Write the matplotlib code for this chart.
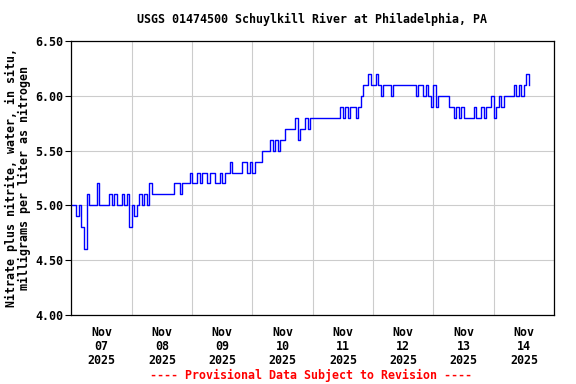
import matplotlib
matplotlib.use("Agg")
import matplotlib.dates as mdates
import matplotlib.pyplot as plt
import pandas as pd
from matplotlib.ticker import FormatStrFormatter, MultipleLocator

# hourly nitrate + nitrite readings (mg/L as N), starting each day at 00:00
nov07 = [5.0, 5.0, 4.9, 5.0, 4.8, 4.6, 5.1, 5.0, 5.0, 5.0, 5.2, 5.0,
         5.0, 5.0, 5.0, 5.1, 5.0, 5.1, 5.0, 5.0, 5.1, 5.0, 5.1, 4.8]
nov08 = [5.0, 4.9, 5.0, 5.1, 5.0, 5.1, 5.0, 5.2, 5.1, 5.1, 5.1, 5.1,
         5.1, 5.1, 5.1, 5.1, 5.1, 5.2, 5.2, 5.1, 5.2, 5.2, 5.2, 5.3]
nov09 = [5.2, 5.2, 5.3, 5.2, 5.3, 5.3, 5.2, 5.3, 5.3, 5.2, 5.2, 5.3,
         5.2, 5.3, 5.3, 5.4, 5.3, 5.3, 5.3, 5.3, 5.4, 5.4, 5.3, 5.4]
nov10 = [5.3, 5.4, 5.4, 5.4, 5.5, 5.5, 5.5, 5.6, 5.5, 5.6, 5.5, 5.6,
         5.6, 5.7, 5.7, 5.7, 5.7, 5.8, 5.6, 5.7, 5.7, 5.8, 5.7, 5.8]
nov11 = [5.8, 5.8, 5.8, 5.8, 5.8, 5.8, 5.8, 5.8, 5.8, 5.8, 5.8, 5.9,
         5.8, 5.9, 5.8, 5.9, 5.9, 5.8, 5.9, 6.0, 6.1, 6.1, 6.2, 6.1]
nov12 = [6.1, 6.2, 6.1, 6.0, 6.1, 6.1, 6.1, 6.0, 6.1, 6.1, 6.1, 6.1,
         6.1, 6.1, 6.1, 6.1, 6.1, 6.0, 6.1, 6.1, 6.0, 6.1, 6.0, 5.9]
nov13 = [6.1, 5.9, 6.0, 6.0, 6.0, 6.0, 5.9, 5.9, 5.8, 5.9, 5.8, 5.9,
         5.8, 5.8, 5.8, 5.8, 5.9, 5.8, 5.8, 5.9, 5.8, 5.9, 5.9, 6.0]
nov14 = [5.8, 5.9, 6.0, 5.9, 6.0, 6.0, 6.0, 6.0, 6.1, 6.0, 6.1, 6.0,
         6.1, 6.2, 6.1]

title = "USGS 01474500 Schuylkill River at Philadelphia, PA"
ylabel = "Nitrate plus nitrite, water, in situ,\nmilligrams per liter as nitrogen"
footer = "---- Provisional Data Subject to Revision ----"

values = nov07 + nov08 + nov09 + nov10 + nov11 + nov12 + nov13 + nov14
times = pd.date_range("2025-11-07 00:00", periods=len(values), freq="h")

font = {"family": "DejaVu Sans Mono", "weight": "bold", "size": 8.4}

fig = plt.figure(figsize=(5.76, 3.84), dpi=100)
fig.patch.set_facecolor("white")
ax = fig.add_axes([0.124, 0.180, 0.838, 0.713])

ax.plot(times, values, color="#0000FF", linewidth=1.0, drawstyle="steps-post")

ax.set_xlim(pd.Timestamp("2025-11-07"), pd.Timestamp("2025-11-15"))
ax.set_ylim(4.0, 6.5)

ax.xaxis.set_major_locator(mdates.DayLocator())
ax.xaxis.set_major_formatter(plt.NullFormatter())
ax.xaxis.set_minor_locator(mdates.HourLocator(byhour=12))
ax.xaxis.set_minor_formatter(mdates.DateFormatter("%b\n%d\n%Y"))
ax.tick_params(axis="x", which="both", length=0, pad=8)

ax.yaxis.set_major_locator(MultipleLocator(0.5))
ax.yaxis.set_major_formatter(FormatStrFormatter("%.2f"))
ax.tick_params(axis="y", direction="out", length=4, width=0.8, pad=2)

for lab in ax.get_xticklabels(minor=True) + ax.get_yticklabels():
    lab.set_fontproperties(font)
for lab in ax.get_xticklabels(minor=True):
    lab.set_linespacing(1.1)

ax.grid(True, which="major", color="#CCCCCC", linewidth=0.8)
ax.set_axisbelow(True)
for spine in ax.spines.values():
    spine.set_linewidth(0.9)
    spine.set_color("black")

fig.text(0.542, 1 - 19 / 384, title, ha="center", va="center", **font)
fig.text(0.031, 0.537, ylabel, ha="center", va="center", rotation=90,
         multialignment="center", linespacing=1.0, **font)
fig.text(0.540, 1 - 375 / 384, footer, ha="center", va="center", color="red", **font)

fig.savefig("out.png", dpi=100, facecolor="white")
